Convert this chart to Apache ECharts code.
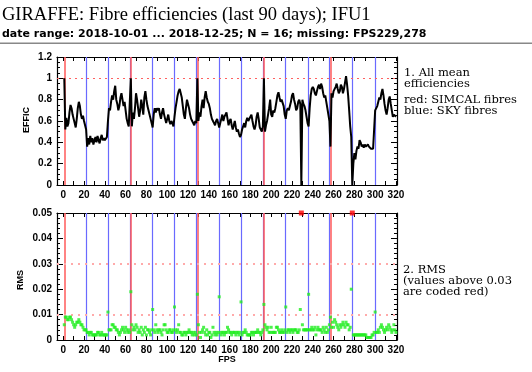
<!DOCTYPE html>
<html><head><meta charset="utf-8">
<script src="https://cdn.jsdelivr.net/npm/echarts@6/dist/echarts.min.js"></script>
<style>html,body{margin:0;padding:0;background:#fff}#c{width:532px;height:372px}</style>
</head><body><div id="c"></div>
<script>
// Mean efficiency per fibre (FPS 1..320); 229 and 278 missing -> 0
const effic = [
1.00,0.52,0.63,0.55,0.58,0.68,0.75,0.72,0.66,0.62,
0.58,0.54,0.62,0.72,0.78,0.74,0.66,0.62,0.65,0.60,
0.56,0.52,0.36,0.44,0.38,0.46,0.40,0.44,0.38,0.42,
0.45,0.40,0.46,0.42,0.39,0.44,0.47,0.42,0.44,0.42,
0.43,0.45,0.60,0.72,0.70,0.78,0.84,0.80,0.88,0.93,
0.80,0.76,0.70,0.74,0.82,0.86,0.80,0.74,0.78,0.70,
0.62,0.58,0.55,0.54,1.00,0.55,0.68,0.62,0.72,0.86,
0.80,0.72,0.64,0.70,0.80,0.74,0.66,0.82,0.88,0.80,
0.74,0.70,0.66,0.62,0.58,0.54,0.66,0.72,0.68,0.72,
0.70,0.72,0.66,0.62,0.68,0.72,0.66,0.62,0.58,0.62,
0.66,0.60,0.57,0.60,0.58,0.55,0.64,0.72,0.78,0.84,
0.88,0.90,0.86,0.82,0.74,0.66,0.62,0.72,0.80,0.76,
0.72,0.66,0.62,0.60,0.58,0.56,0.60,0.58,1.00,0.60,
0.68,0.64,0.74,0.80,0.72,0.82,0.88,0.82,0.78,0.76,
0.72,0.66,0.62,0.60,0.58,0.56,0.60,0.62,0.58,0.54,
0.58,0.62,0.66,0.60,0.64,0.66,0.68,0.62,0.56,0.60,
0.62,0.56,0.52,0.56,0.60,0.54,0.50,0.52,0.48,0.45,
0.47,0.52,0.55,0.58,0.54,0.60,0.63,0.60,0.62,0.64,
0.66,0.60,0.55,0.52,0.56,0.64,0.68,0.62,0.54,0.52,
0.50,0.55,1.00,0.50,0.56,0.60,0.66,0.72,0.80,0.66,
0.64,0.70,0.68,0.72,0.78,0.84,0.87,0.82,0.78,0.80,
0.80,0.74,0.66,0.62,0.70,0.72,0.70,0.74,0.78,0.84,
0.86,0.80,0.76,0.70,0.72,0.78,0.80,0.76,0.00,0.80,
0.76,0.74,0.70,0.64,0.58,0.55,0.72,0.84,0.90,0.92,
0.90,0.86,0.84,0.88,0.92,0.94,0.90,0.95,0.92,0.86,
0.82,0.84,0.78,0.72,0.66,0.60,0.36,0.86,0.82,0.88,
0.88,0.92,0.95,0.90,0.86,0.88,0.94,0.92,0.86,0.90,
0.96,1.02,0.94,0.84,0.70,0.55,0.45,0.00,0.20,0.30,
0.24,0.32,0.36,0.34,0.42,0.40,0.36,0.38,0.35,0.38,
0.36,0.35,0.38,0.36,0.35,0.34,0.35,0.34,0.33,0.70,
0.70,0.74,0.78,0.82,0.80,0.86,0.90,0.84,0.76,0.70,
0.66,0.72,0.80,0.83,0.76,0.70,0.64,0.66,0.65,0.64
];
// RMS per fibre (FPS 1..320); values above 0.03 are coded red (clipped at 0.05)
const rms = [
0.006,0.009,0.009,0.008,0.008,0.009,0.009,0.008,0.007,0.006,
0.005,0.006,0.007,0.007,0.008,0.007,0.006,0.006,0.005,0.004,
0.004,0.004,0.003,0.003,0.002,0.003,0.003,0.002,0.002,0.002,
0.002,0.002,0.003,0.003,0.002,0.002,0.003,0.002,0.002,0.002,
0.002,0.002,0.011,0.004,0.004,0.004,0.006,0.006,0.005,0.005,
0.004,0.004,0.003,0.002,0.003,0.004,0.005,0.004,0.003,0.005,
0.004,0.003,0.004,0.003,0.019,0.006,0.004,0.005,0.004,0.006,
0.005,0.003,0.004,0.003,0.005,0.002,0.004,0.003,0.005,0.002,
0.004,0.004,0.003,0.002,0.004,0.012,0.004,0.003,0.006,0.004,
0.003,0.004,0.004,0.003,0.002,0.004,0.006,0.006,0.004,0.003,
0.003,0.004,0.004,0.003,0.003,0.004,0.013,0.004,0.003,0.004,
0.006,0.003,0.003,0.002,0.002,0.003,0.003,0.002,0.003,0.003,
0.004,0.003,0.003,0.002,0.003,0.002,0.003,0.002,0.018,0.006,
0.003,0.001,0.003,0.004,0.005,0.003,0.002,0.004,0.002,0.003,
0.003,0.001,0.002,0.005,0.003,0.002,0.003,0.002,0.003,0.017,
0.003,0.002,0.003,0.003,0.002,0.003,0.003,0.005,0.004,0.003,
0.003,0.002,0.003,0.003,0.003,0.002,0.003,0.003,0.002,0.003,
0.015,0.002,0.003,0.003,0.004,0.003,0.002,0.002,0.002,0.002,
0.003,0.003,0.002,0.003,0.003,0.003,0.004,0.003,0.003,0.002,
0.003,0.004,0.014,0.006,0.005,0.004,0.005,0.003,0.003,0.005,
0.003,0.003,0.003,0.003,0.005,0.005,0.004,0.003,0.003,0.004,
0.003,0.003,0.004,0.013,0.003,0.004,0.004,0.003,0.004,0.004,
0.003,0.004,0.004,0.004,0.003,0.003,0.004,0.012,0.050,0.006,
0.004,0.004,0.004,0.004,0.004,0.018,0.004,0.004,0.005,0.004,
0.004,0.005,0.002,0.004,0.005,0.004,0.004,0.004,0.003,0.005,
0.004,0.003,0.005,0.003,0.004,0.006,0.009,0.005,0.007,0.005,
0.008,0.007,0.006,0.005,0.004,0.006,0.005,0.006,0.007,0.006,
0.005,0.007,0.006,0.006,0.004,0.005,0.020,0.050,0.002,0.002,
0.002,0.002,0.002,0.002,0.002,0.002,0.002,0.002,0.002,0.002,
0.002,0.001,0.001,0.001,0.001,0.001,0.002,0.002,0.003,0.011,
0.003,0.003,0.004,0.003,0.005,0.006,0.005,0.004,0.003,0.004,
0.005,0.004,0.006,0.005,0.004,0.003,0.004,0.006,0.004,0.003
];
const simcalFibres = [1, 65, 129, 193, 257];
const skyFibres = [22, 43, 64, 86, 107, 128, 150, 171, 192, 214, 236, 256, 278, 300];
const xTickMarks = [0,10,20,30,40,50,60,70,80,90,100,110,120,130,140,150,160,170,180,190,200,210,220,230,240,250,260,270,280,290,300,310,320];
const xTickLabels = [0,20,40,60,80,100,120,140,160,180,200,220,240,260,280,300,320];
const efficRefLines = [1];
const rmsRefLines = [0.01, 0.03];
const rmsThreshold = 0.03;

const fps = effic.map((_, i) => i + 1);
const effData = fps.map((f, i) => [f, effic[i]]);
const rmsGreen = fps.map((f, i) => [f, rms[i]]).filter(d => d[1] <= rmsThreshold);
const rmsRed = fps.map((f, i) => [f, rms[i]]).filter(d => d[1] > rmsThreshold);

const lblFont = {fontFamily: 'Liberation Sans, Arial, sans-serif', fontWeight: 'bold', fontSize: 10, color: '#000'};
const axLine = {show: true, onZero: false, lineStyle: {color: '#000', width: 1.2}};

function xAxes(grid) {
  return [
    {gridIndex: grid, type: 'value', position: 'bottom', min: -6, max: 321,
     axisLine: axLine, splitLine: {show: false},
     axisTick: {show: true, inside: true, length: 4, customValues: xTickMarks, lineStyle: {color: '#000'}},
     axisLabel: Object.assign({show: true, margin: 5, customValues: xTickLabels}, lblFont)},
    {gridIndex: grid, type: 'value', position: 'top', min: -6, max: 321,
     axisLine: axLine, splitLine: {show: false},
     axisTick: {show: true, inside: true, length: 4, customValues: xTickMarks, lineStyle: {color: '#000'}},
     axisLabel: {show: false}}
  ];
}
function yAxes(grid, min, max, interval, split, fmt) {
  const base = {gridIndex: grid, type: 'value', min: min, max: max, interval: interval,
    axisLine: axLine, splitLine: {show: false},
    axisTick: {show: true, inside: true, length: 6, lineStyle: {color: '#000'}},
    minorTick: {show: true, splitNumber: split, length: 3, lineStyle: {color: '#000'}}};
  return [
    Object.assign({}, base, {position: 'left', axisLabel: Object.assign({show: true, margin: 5, formatter: fmt}, lblFont)}),
    Object.assign({}, base, {position: 'right', axisLabel: {show: false}})
  ];
}

function vLines(xa, ya) {
  return {
    type: 'line', xAxisIndex: xa, yAxisIndex: ya, data: [], silent: true, z: 1,
    markLine: {silent: true, symbol: 'none', label: {show: false}, animation: false,
      data: skyFibres.map(x => ({xAxis: x, lineStyle: {color: '#6a6aff', width: 1.2, type: 'solid'}}))
        .concat(simcalFibres.map(x => ({xAxis: x, lineStyle: {color: '#ff5a5a', width: 1.5, type: 'solid'}})))}
  };
}

const noteFont = '11.5px "DejaVu Serif", serif';
const chart = echarts.init(document.getElementById('c'), null, {renderer: 'canvas'});
chart.setOption({
  animation: false,
  grid: [
    {left: 57, top: 57, width: 340, height: 128},
    {left: 57, top: 213, width: 340, height: 127}
  ],
  xAxis: xAxes(0).concat(xAxes(1)),
  yAxis: yAxes(0, 0, 1.2, 0.2, 4, v => String(Math.round(v * 10) / 10))
    .concat(yAxes(1, 0, 0.05, 0.01, 5, v => String(Math.round(v * 100) / 100))),
  series: [
    vLines(0, 0),
    {type: 'line', xAxisIndex: 0, yAxisIndex: 0, data: [], silent: true, z: 1,
     markLine: {silent: true, symbol: 'none', label: {show: false},
       data: efficRefLines.map(y => ({yAxis: y})),
       lineStyle: {color: '#ff6060', width: 1, type: [2, 4]}}},
    {type: 'line', xAxisIndex: 0, yAxisIndex: 0, data: effData, showSymbol: false, z: 5,
     lineStyle: {color: '#000', width: 2}, clip: true},
    vLines(2, 2),
    {type: 'line', xAxisIndex: 2, yAxisIndex: 2, data: [], silent: true, z: 1,
     markLine: {silent: true, symbol: 'none', label: {show: false},
       data: rmsRefLines.map(y => ({yAxis: y})),
       lineStyle: {color: '#ffaaaa', width: 2, type: [2, 5]}}},
    {type: 'scatter', xAxisIndex: 2, yAxisIndex: 2, data: rmsGreen, symbol: 'rect', symbolSize: 3,
     itemStyle: {color: '#22ee22'}, z: 5},
    {type: 'scatter', xAxisIndex: 2, yAxisIndex: 2, data: rmsRed, symbol: 'rect', symbolSize: 5,
     itemStyle: {color: '#ff0000'}, z: 6, clip: false}
  ],
  graphic: [
    {type: 'text', left: 2, top: 6, style: {text: 'GIRAFFE: Fibre efficiencies (last 90 days); IFU1',
      font: '18.5px "Liberation Serif", serif', fill: '#000'}},
    {type: 'text', left: 2, top: 29, style: {text: 'date range: 2018-10-01 ... 2018-12-25; N = 16; missing: FPS229,278',
      font: 'bold 11px "DejaVu Sans", sans-serif', fill: '#000'}},
    {type: 'rect', shape: {x: 0, y: 42.5, width: 532, height: 1.5}, style: {fill: '#888'}},
    {type: 'text', left: 404, top: 67, style: {text: '1. All mean\nefficiencies', lineHeight: 11,
      font: noteFont, fill: '#000'}},
    {type: 'text', left: 404, top: 94.5, style: {text: 'red: SIMCAL fibres\nblue: SKY fibres', lineHeight: 11,
      font: noteFont, fill: '#000'}},
    {type: 'text', left: 403, top: 264.5, style: {text: '2. RMS\n(values above 0.03\nare coded red)', lineHeight: 11,
      font: noteFont, fill: '#000'}},
    {type: 'text', x: 27, y: 120, rotation: Math.PI / 2, style: {text: 'EFFIC', align: 'center', verticalAlign: 'middle',
      font: 'bold 9px "Liberation Sans", sans-serif', fill: '#000'}},
    {type: 'text', x: 21, y: 280, rotation: Math.PI / 2, style: {text: 'RMS', align: 'center', verticalAlign: 'middle',
      font: 'bold 9px "Liberation Sans", sans-serif', fill: '#000'}},
    {type: 'text', x: 227, y: 360, style: {text: 'FPS', align: 'center', verticalAlign: 'middle',
      font: 'bold 9px "Liberation Sans", sans-serif', fill: '#000'}}
  ]
});
</script></body></html>
